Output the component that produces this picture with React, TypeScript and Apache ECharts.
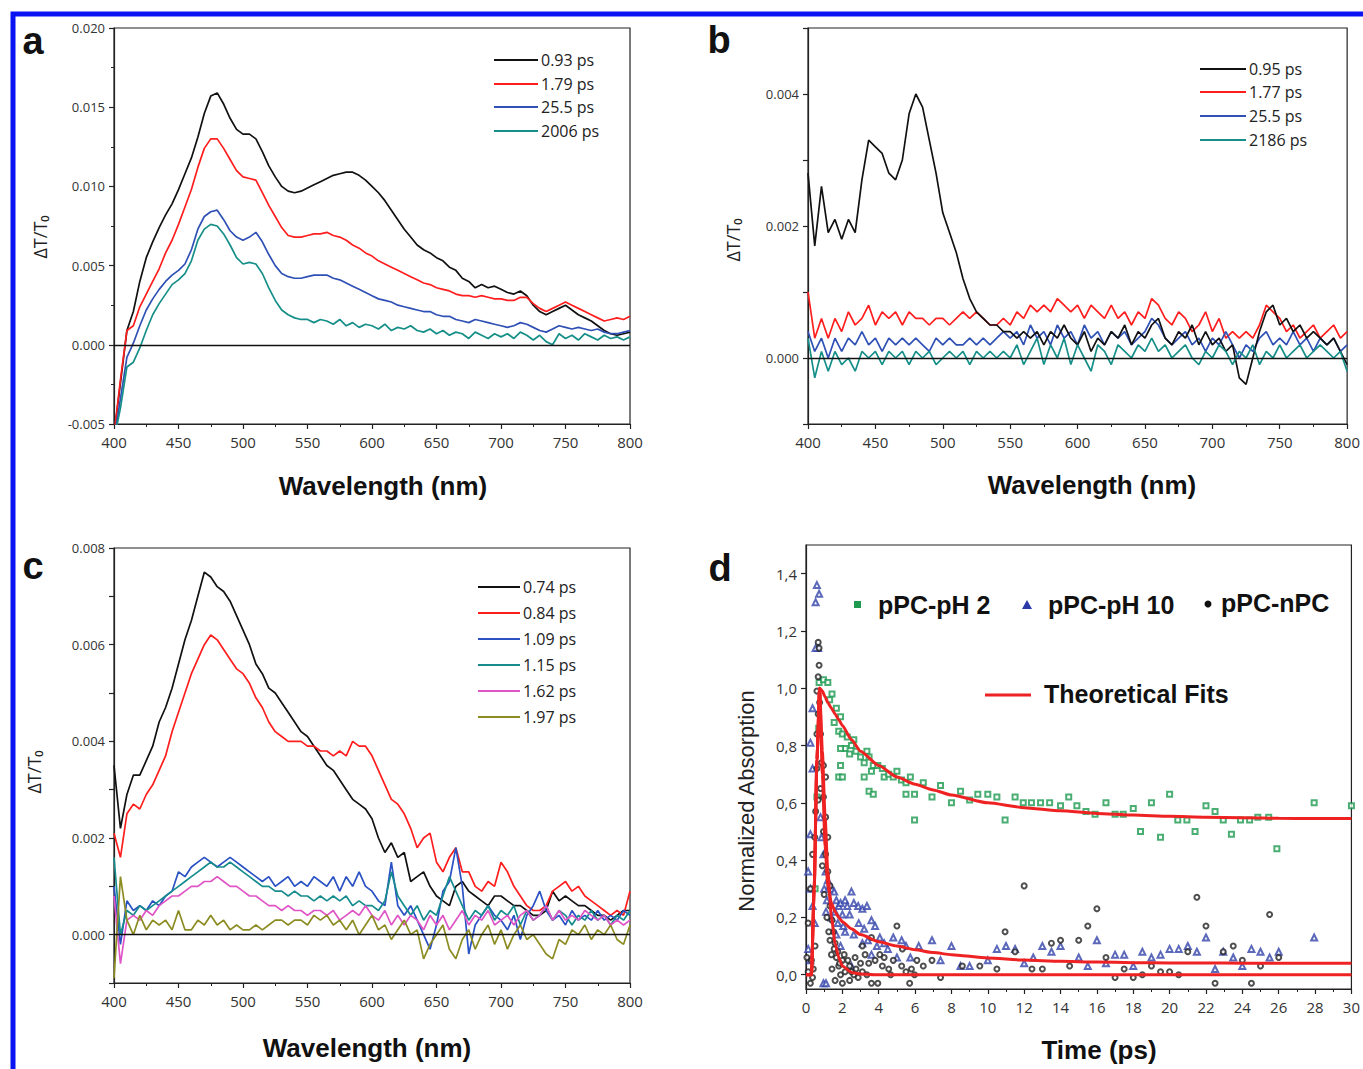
import React, { useEffect, useRef } from 'react';
import * as echarts from 'echarts';

// ---------- shared wavelength grid (nm) ----------
const WL = [
  400, 405, 410, 415, 420, 425, 430, 435, 440, 445,
  450, 455, 460, 465, 470, 475, 480, 485, 490, 495,
  500, 505, 510, 515, 520, 525, 530, 535, 540, 545,
  550, 555, 560, 565, 570, 575, 580, 585, 590, 595,
  600, 605, 610, 615, 620, 625, 630, 635, 640, 645,
  650, 655, 660, 665, 670, 675, 680, 685, 690, 695,
  700, 705, 710, 715, 720, 725, 730, 735, 740, 745,
  750, 755, 760, 765, 770, 775, 780, 785, 790, 795,
  800,
];

// ---------- panel a ----------
const A_NAMES = ['0.93 ps', '1.79 ps', '25.5 ps', '2006 ps'];
const A_BLACK = [
  -0.0057, -0.0024, 0.0009, 0.0021, 0.0040, 0.0055, 0.0065, 0.0074, 0.0082, 0.0089,
  0.0098, 0.0108, 0.0118, 0.0131, 0.0146, 0.0157, 0.0159, 0.0152, 0.0143, 0.0136,
  0.0133, 0.0133, 0.0130, 0.0122, 0.0113, 0.0106, 0.0100, 0.0097, 0.0096, 0.0097,
  0.0099, 0.0101, 0.0103, 0.0105, 0.0107, 0.0108, 0.0109, 0.0109, 0.0107, 0.0104,
  0.0100, 0.0096, 0.0091, 0.0085, 0.0079, 0.0073, 0.0068, 0.0063, 0.0060, 0.0058,
  0.0055, 0.0053, 0.0049, 0.0047, 0.0042, 0.0040, 0.0036, 0.0038, 0.0036, 0.0037,
  0.0035, 0.0033, 0.0032, 0.0034, 0.0031, 0.0025, 0.0021, 0.0019, 0.0021, 0.0023,
  0.0025, 0.0022, 0.0019, 0.0017, 0.0015, 0.0012, 0.0009, 0.0007, 0.0006, 0.0007,
  0.0008,
];
const A_RED = [
  -0.0057, -0.0022, 0.0009, 0.0012, 0.0024, 0.0032, 0.0040, 0.0048, 0.0058, 0.0066,
  0.0076, 0.0087, 0.0098, 0.0112, 0.0124, 0.0130, 0.0130, 0.0124, 0.0117, 0.0110,
  0.0106, 0.0105, 0.0104, 0.0096, 0.0088, 0.0081, 0.0074, 0.0069, 0.0068, 0.0068,
  0.0069, 0.0070, 0.0070, 0.0071, 0.0069, 0.0068, 0.0066, 0.0063, 0.0061, 0.0058,
  0.0056, 0.0053, 0.0051, 0.0049, 0.0047, 0.0045, 0.0043, 0.0041, 0.0039, 0.0038,
  0.0036, 0.0035, 0.0034, 0.0032, 0.0031, 0.0031, 0.0030, 0.0031, 0.0030, 0.0029,
  0.0029, 0.0028, 0.0028, 0.0030, 0.0030, 0.0026, 0.0023, 0.0021, 0.0023, 0.0025,
  0.0027, 0.0025, 0.0023, 0.0021, 0.0019, 0.0017, 0.0015, 0.0016, 0.0017, 0.0016,
  0.0018,
];
const A_BLUE = [
  -0.0060, -0.0034, -0.0008, 0.0001, 0.0012, 0.0022, 0.0029, 0.0035, 0.0040, 0.0044,
  0.0047, 0.0051, 0.0060, 0.0073, 0.0081, 0.0084, 0.0085, 0.0079, 0.0072, 0.0068,
  0.0066, 0.0068, 0.0071, 0.0065, 0.0057, 0.0050, 0.0045, 0.0043, 0.0042, 0.0042,
  0.0043, 0.0044, 0.0044, 0.0044, 0.0042, 0.0041, 0.0039, 0.0037, 0.0035, 0.0033,
  0.0031, 0.0029, 0.0028, 0.0027, 0.0025, 0.0024, 0.0023, 0.0022, 0.0021, 0.0021,
  0.0019, 0.0018, 0.0018, 0.0016, 0.0015, 0.0014, 0.0016, 0.0015, 0.0014, 0.0013,
  0.0012, 0.0011, 0.0012, 0.0014, 0.0013, 0.0011, 0.0009, 0.0008, 0.0010, 0.0012,
  0.0011, 0.0010, 0.0011, 0.0010, 0.0009, 0.0010, 0.0008, 0.0007, 0.0007, 0.0008,
  0.0009,
];
const A_TEAL = [
  -0.0060, -0.0040, -0.0014, -0.0011, -0.0002, 0.0009, 0.0019, 0.0026, 0.0032, 0.0038,
  0.0041, 0.0045, 0.0053, 0.0066, 0.0073, 0.0076, 0.0075, 0.0070, 0.0063, 0.0055,
  0.0051, 0.0052, 0.0051, 0.0045, 0.0036, 0.0028, 0.0022, 0.0019, 0.0017, 0.0016,
  0.0016, 0.0014, 0.0016, 0.0015, 0.0013, 0.0016, 0.0012, 0.0014, 0.0011, 0.0013,
  0.0012, 0.0010, 0.0013, 0.0009, 0.0011, 0.0010, 0.0012, 0.0009, 0.0008, 0.0010,
  0.0007, 0.0009, 0.0006, 0.0008, 0.0007, 0.0004, 0.0008, 0.0006, 0.0004, 0.0007,
  0.0005, 0.0007, 0.0004, 0.0008, 0.0006, 0.0003, 0.0006, 0.0002, 0.0000, 0.0007,
  0.0004, 0.0006, 0.0003, 0.0007, 0.0005, 0.0003, 0.0006, 0.0004, 0.0005, 0.0003,
  0.0005,
];

// ---------- panel b ----------
const B_NAMES = ['0.95 ps', '1.77 ps', '25.5 ps', '2186 ps'];
const B_BLACK = [
  0.0028, 0.0017, 0.0026, 0.0019, 0.0021, 0.0018, 0.0021, 0.0019, 0.0027, 0.0033,
  0.0032, 0.0031, 0.0028, 0.0027, 0.0030, 0.0037, 0.0040, 0.0038, 0.0033, 0.0028,
  0.0022, 0.0019, 0.0016, 0.0012, 0.0009, 0.0007, 0.0006, 0.0005, 0.0005, 0.0004,
  0.0004, 0.0003, 0.0004, 0.0003, 0.0004, 0.0002, 0.0004, 0.0003, 0.0005, 0.0003,
  0.0002, 0.0004, 0.0001, 0.0003, 0.0002, 0.0004, 0.0003, 0.0005, 0.0002, 0.0004,
  0.0003, 0.0005, 0.0006, 0.0003, 0.0002, 0.0004, 0.0003, 0.0005, 0.0002, 0.0004,
  0.0002, 0.0003, 0.0001, 0.0002, -0.0003, -0.0004, 0.0000, 0.0004, 0.0007, 0.0008,
  0.0005, 0.0006, 0.0004, 0.0005, 0.0003, 0.0004, 0.0003, 0.0002, 0.0003, 0.0001,
  -0.0001,
];
const B_RED = [
  0.0010, 0.0003, 0.0006, 0.0003, 0.0006, 0.0004, 0.0007, 0.0005, 0.0006, 0.0008,
  0.0005, 0.0007, 0.0006, 0.0007, 0.0005, 0.0007, 0.0006, 0.0006, 0.0005, 0.0006,
  0.0006, 0.0005, 0.0006, 0.0007, 0.0006, 0.0007, 0.0006, 0.0005, 0.0005, 0.0006,
  0.0005, 0.0007, 0.0006, 0.0008, 0.0007, 0.0008, 0.0007, 0.0009, 0.0008, 0.0007,
  0.0008, 0.0006, 0.0008, 0.0007, 0.0006, 0.0008, 0.0006, 0.0007, 0.0005, 0.0007,
  0.0006, 0.0009, 0.0008, 0.0006, 0.0005, 0.0007, 0.0006, 0.0004, 0.0005, 0.0007,
  0.0004, 0.0006, 0.0003, 0.0004, 0.0003, 0.0004, 0.0003, 0.0005, 0.0008, 0.0007,
  0.0006, 0.0004, 0.0005, 0.0003, 0.0004, 0.0005, 0.0003, 0.0004, 0.0005, 0.0003,
  0.0004,
];
const B_BLUE = [
  0.0004, 0.0001, 0.0003, 0.0000, 0.0003, 0.0001, 0.0003, 0.0002, 0.0004, 0.0002,
  0.0003, 0.0001, 0.0003, 0.0002, 0.0003, 0.0002, 0.0003, 0.0002, 0.0001, 0.0003,
  0.0002, 0.0003, 0.0002, 0.0002, 0.0003, 0.0002, 0.0003, 0.0002, 0.0003, 0.0004,
  0.0003, 0.0004, 0.0002, 0.0005, 0.0003, 0.0004, 0.0002, 0.0005, 0.0003, 0.0004,
  0.0002, 0.0005, 0.0003, 0.0004, 0.0002, 0.0004, 0.0003, 0.0004, 0.0002, 0.0003,
  0.0004, 0.0006, 0.0005, 0.0003, 0.0002, 0.0003, 0.0004, 0.0002, 0.0003, 0.0001,
  0.0003, 0.0002, 0.0004, 0.0002, 0.0000, 0.0002, 0.0001, 0.0003, 0.0004, 0.0002,
  0.0003, 0.0002, 0.0004, 0.0002, 0.0003, 0.0001, 0.0003, 0.0002, 0.0003, 0.0001,
  0.0002,
];
const B_TEAL = [
  0.0003, -0.0003, 0.0001, -0.0002, 0.0001, -0.0001, 0.0000, -0.0002, 0.0001, 0.0000,
  0.0001, -0.0001, 0.0001, 0.0000, 0.0001, -0.0001, 0.0001, 0.0000, 0.0001, -0.0001,
  0.0000, 0.0001, 0.0000, 0.0001, -0.0001, 0.0001, 0.0000, 0.0001, 0.0000, 0.0001,
  0.0000, 0.0002, -0.0001, 0.0001, 0.0003, -0.0001, 0.0002, 0.0000, 0.0003, -0.0001,
  0.0002, 0.0000, -0.0002, 0.0002, 0.0001, -0.0001, 0.0002, 0.0001, 0.0000, 0.0002,
  0.0001, 0.0003, 0.0001, 0.0002, 0.0000, 0.0001, 0.0002, 0.0000, -0.0001, 0.0001,
  0.0000, 0.0002, 0.0001, -0.0001, 0.0001, 0.0000, 0.0002, -0.0001, 0.0001, 0.0000,
  0.0002, 0.0000, 0.0001, 0.0002, 0.0000, 0.0001, 0.0002, 0.0001, 0.0000, 0.0001,
  -0.0002,
];

// ---------- panel c ----------
const C_NAMES = ['0.74 ps', '0.84 ps', '1.09 ps', '1.15 ps', '1.62 ps', '1.97 ps'];
const C_BLACK = [
  0.0035, 0.0022, 0.0029, 0.0033, 0.0033, 0.0036, 0.0039, 0.0044, 0.0047, 0.0051,
  0.0056, 0.0061, 0.0065, 0.0070, 0.0075, 0.0074, 0.0072, 0.0071, 0.0069, 0.0066,
  0.0063, 0.0060, 0.0056, 0.0054, 0.0051, 0.0050, 0.0048, 0.0046, 0.0044, 0.0042,
  0.0041, 0.0039, 0.0037, 0.0035, 0.0034, 0.0032, 0.0030, 0.0028, 0.0027, 0.0026,
  0.0024, 0.0020, 0.0017, 0.0019, 0.0016, 0.0017, 0.0011, 0.0012, 0.0013, 0.0010,
  0.0008, 0.0007, 0.0006, 0.0010, 0.0011, 0.0009, 0.0008, 0.0007, 0.0006, 0.0008,
  0.0008, 0.0007, 0.0006, 0.0006, 0.0005, 0.0004, 0.0004, 0.0005, 0.0009, 0.0007,
  0.0008, 0.0007, 0.0006, 0.0006, 0.0005, 0.0004, 0.0004, 0.0003, 0.0004, 0.0005,
  0.0005,
];
const C_RED = [
  0.0021, 0.0016, 0.0025, 0.0027, 0.0026, 0.0029, 0.0031, 0.0034, 0.0037, 0.0042,
  0.0046, 0.0050, 0.0054, 0.0057, 0.0060, 0.0062, 0.0061, 0.0059, 0.0057, 0.0055,
  0.0054, 0.0052, 0.0049, 0.0047, 0.0044, 0.0042, 0.0041, 0.0040, 0.0040, 0.0040,
  0.0039, 0.0039, 0.0038, 0.0038, 0.0037, 0.0038, 0.0037, 0.0040, 0.0039, 0.0039,
  0.0037, 0.0034, 0.0031, 0.0028, 0.0027, 0.0025, 0.0022, 0.0018, 0.0020, 0.0021,
  0.0015, 0.0013, 0.0016, 0.0018, 0.0013, 0.0013, 0.0010, 0.0009, 0.0011, 0.0010,
  0.0015, 0.0013, 0.0010, 0.0008, 0.0006, 0.0005, 0.0005, 0.0006, 0.0009, 0.0010,
  0.0011, 0.0009, 0.0010, 0.0008, 0.0007, 0.0006, 0.0005, 0.0004, 0.0005, 0.0004,
  0.0009,
];
const C_BLUE = [
  0.0010, -0.0002, 0.0007, 0.0005, 0.0006, 0.0005, 0.0007, 0.0006, 0.0008, 0.0009,
  0.0013, 0.0012, 0.0014, 0.0015, 0.0016, 0.0015, 0.0014, 0.0015, 0.0016, 0.0015,
  0.0014, 0.0013, 0.0012, 0.0011, 0.0012, 0.0010, 0.0011, 0.0012, 0.0010, 0.0011,
  0.0010, 0.0012, 0.0011, 0.0010, 0.0012, 0.0009, 0.0012, 0.0010, 0.0013, 0.0010,
  0.0009, 0.0007, 0.0006, 0.0015, 0.0006, 0.0004, 0.0006, 0.0003, 0.0000, -0.0003,
  0.0002, 0.0009, 0.0011, 0.0018, 0.0010, -0.0004, 0.0002, 0.0004, 0.0006, 0.0004,
  0.0003, 0.0001, 0.0004, -0.0001, 0.0004, 0.0006, 0.0009, 0.0005, 0.0003, 0.0004,
  0.0002, 0.0005, 0.0003, 0.0004, 0.0003, 0.0005, 0.0003, 0.0004, 0.0003, 0.0005,
  0.0004,
];
const C_TEAL = [
  0.0016, 0.0000, 0.0005, 0.0004, 0.0006, 0.0005, 0.0006, 0.0007, 0.0008, 0.0009,
  0.0010, 0.0011, 0.0012, 0.0013, 0.0014, 0.0015, 0.0014, 0.0014, 0.0015, 0.0014,
  0.0013, 0.0012, 0.0011, 0.0010, 0.0010, 0.0009, 0.0009, 0.0008, 0.0009, 0.0008,
  0.0008, 0.0007, 0.0008, 0.0007, 0.0008, 0.0007, 0.0008, 0.0006, 0.0007, 0.0006,
  0.0006, 0.0005, 0.0007, 0.0013, 0.0008, 0.0006, 0.0004, 0.0006, 0.0003, 0.0005,
  0.0004, 0.0008, 0.0012, 0.0009, 0.0006, 0.0003, 0.0005, 0.0004, 0.0006, 0.0003,
  0.0005, 0.0004, 0.0006, 0.0002, 0.0005, 0.0003, 0.0004, 0.0006, 0.0003, 0.0005,
  0.0004, 0.0002, 0.0004, 0.0003, 0.0005, 0.0003, 0.0004, 0.0002, 0.0004, 0.0003,
  0.0005,
];
const C_MAGENTA = [
  0.0008, -0.0006, 0.0003, 0.0004, 0.0003, 0.0005, 0.0004, 0.0006, 0.0007, 0.0008,
  0.0008, 0.0009, 0.0010, 0.0010, 0.0011, 0.0011, 0.0012, 0.0011, 0.0010, 0.0010,
  0.0009, 0.0008, 0.0008, 0.0007, 0.0006, 0.0006, 0.0005, 0.0006, 0.0005, 0.0005,
  0.0004, 0.0005, 0.0005, 0.0004, 0.0005, 0.0003, 0.0004, 0.0005, 0.0004, 0.0006,
  0.0004, 0.0003, 0.0005, 0.0002, 0.0004, 0.0002, 0.0004, 0.0003, 0.0001, 0.0004,
  0.0002, 0.0004, 0.0001, 0.0003, 0.0005, 0.0002, 0.0004, 0.0003, 0.0005, 0.0002,
  0.0003, 0.0004, 0.0002, 0.0004, 0.0005, 0.0003, 0.0004, 0.0006, 0.0003, 0.0005,
  0.0003, 0.0004, 0.0003, 0.0005, 0.0004, 0.0003, 0.0004, 0.0002, 0.0003, 0.0002,
  0.0003,
];
const C_OLIVE = [
  -0.0009, 0.0012, 0.0003, 0.0000, 0.0004, 0.0001, 0.0003, 0.0002, 0.0003, 0.0001,
  0.0005, 0.0001, 0.0001, 0.0003, 0.0002, 0.0004, 0.0002, 0.0003, 0.0001, 0.0002,
  0.0001, 0.0001, 0.0002, 0.0001, 0.0002, 0.0003, 0.0003, 0.0002, 0.0003, 0.0003,
  0.0002, 0.0004, 0.0003, 0.0004, 0.0002, 0.0003, 0.0001, 0.0003, 0.0000, 0.0002,
  0.0004, 0.0001, 0.0002, -0.0001, 0.0001, 0.0003, 0.0000, 0.0001, -0.0005, -0.0002,
  0.0000, 0.0002, -0.0003, -0.0005, -0.0001, 0.0001, -0.0003, 0.0000, 0.0002, -0.0002,
  0.0001, -0.0003, 0.0000, 0.0002, -0.0001, 0.0000, -0.0002, -0.0004, -0.0005, -0.0001,
  -0.0002, 0.0001, 0.0000, 0.0002, -0.0001, 0.0001, 0.0000, 0.0002, -0.0001, -0.0002,
  0.0002,
];

// ---------- panel d ----------
const D_NAMES = ['pPC-pH 2', 'pPC-pH 10', 'pPC-nPC'];
const D_GREEN = [
  [0.5, 0.30], [0.6, 0.62], [0.7, 0.86], [0.72, 1.02], [0.96, 1.03], [1.2, 1.02], [1.43, 0.98], [1.3, 0.96],
  [1.67, 0.93], [1.55, 0.88], [1.9, 0.90], [1.8, 0.85], [2.0, 0.84], [2.15, 0.79], [1.9, 0.79], [2.27, 0.83],
  [2.5, 0.80], [2.63, 0.82], [1.9, 0.73], [1.8, 0.69], [2.0, 0.69], [2.4, 0.77], [2.75, 0.78], [3.0, 0.76],
  [3.2, 0.74], [3.35, 0.78], [3.47, 0.76], [3.7, 0.73], [3.6, 0.71], [3.2, 0.69], [3.47, 0.64], [3.7, 0.63],
  [3.95, 0.73], [4.2, 0.72], [4.3, 0.69], [4.55, 0.70], [4.8, 0.69], [5.0, 0.71], [5.25, 0.68], [5.5, 0.67],
  [5.5, 0.63], [5.74, 0.69], [5.97, 0.63], [5.97, 0.54], [6.45, 0.67], [6.93, 0.62], [7.4, 0.66], [8.0, 0.60],
  [8.5, 0.64], [9.0, 0.61], [9.45, 0.63], [10.0, 0.63], [10.5, 0.62], [10.95, 0.54], [11.5, 0.62], [11.95, 0.60],
  [12.4, 0.60], [12.9, 0.60], [13.4, 0.60], [14.0, 0.59], [14.45, 0.62], [14.9, 0.59], [15.4, 0.57], [15.9, 0.56],
  [16.5, 0.60], [17.0, 0.56], [17.45, 0.56], [18.0, 0.58], [18.4, 0.50], [19.0, 0.60], [19.5, 0.48], [20.0, 0.63],
  [20.45, 0.54], [20.95, 0.54], [21.4, 0.50], [22.0, 0.59], [22.5, 0.57], [22.95, 0.54], [23.4, 0.49], [23.9, 0.54],
  [24.4, 0.54], [24.85, 0.55], [25.45, 0.55], [25.9, 0.44], [27.95, 0.60], [30.0, 0.59],
];
const D_BLUE = [
  [0.6, 1.52], [0.6, 1.36], [0.72, 1.33], [0.53, 1.30], [0.67, 1.14], [0.53, 1.14], [0.36, 0.93], [0.24, 0.81],
  [0.36, 0.72], [0.24, 0.49], [0.12, 0.36], [0.24, 0.30], [0.36, 0.24], [0.12, 0.09], [0.24, 0.05], [0.48, 0.18],
  [0.96, 0.42], [1.08, 0.36], [1.2, 0.33], [1.3, 0.31], [1.43, 0.30], [1.55, 0.29], [1.67, 0.26], [1.8, 0.24],
  [1.9, 0.25], [2.0, 0.21], [2.15, 0.26], [2.27, 0.24], [2.5, 0.29], [2.63, 0.25], [2.87, 0.24], [3.1, 0.23],
  [3.35, 0.24], [3.6, 0.19], [3.8, 0.17], [1.67, 0.14], [2.15, 0.15], [2.63, 0.14], [3.1, 0.11], [3.6, 0.07],
  [4.06, 0.13], [4.3, 0.11], [4.8, 0.13], [5.26, 0.12], [5.74, 0.06], [6.2, 0.10], [6.93, 0.12], [7.4, 0.05],
  [8.0, 0.10], [8.5, 0.03], [9.0, 0.03], [10.0, 0.05], [10.5, 0.09], [11.0, 0.10], [11.5, 0.09], [12.0, 0.04],
  [12.5, 0.06], [13.0, 0.10], [13.5, 0.08], [14.0, 0.10], [15.0, 0.06], [15.5, 0.03], [16.0, 0.12], [16.5, 0.04],
  [17.0, 0.07], [17.5, 0.07], [18.0, 0.03], [18.5, 0.08], [19.0, 0.06], [19.5, 0.07], [20.0, 0.09], [20.5, 0.09],
  [21.0, 0.10], [21.5, 0.08], [22.0, 0.13], [22.5, 0.02], [22.95, 0.08], [23.5, 0.06], [24.0, 0.03], [24.5, 0.09],
  [25.0, 0.08], [25.5, 0.06], [26.0, 0.08], [27.95, 0.13],
  [1.1, 0.22], [1.4, 0.20], [1.6, 0.22], [1.75, 0.18], [2.05, 0.17], [2.4, 0.21], [2.9, 0.18], [3.2, 0.16],
  [3.4, 0.12], [3.9, 0.10], [4.5, 0.09], [5.0, 0.06], [5.5, 0.10], [0.8, 0.55], [0.85, 0.48], [1.0, 0.30],
  [1.15, 0.26], [1.9, 0.10], [0.96, -0.03], [1.1, -0.03], [2.5, 0.03],
];
const D_BLACK = [
  [0.67, 1.16], [0.72, 1.14], [0.72, 1.08], [0.67, 1.04], [0.6, 0.99], [0.67, 0.91], [0.6, 0.84], [0.6, 0.72],
  [0.67, 0.61], [0.53, 0.57], [0.48, 0.48], [0.36, 0.42], [0.24, 0.30], [0.12, 0.18], [0.05, 0.06], [0.12, 0.01],
  [0.24, -0.03], [0.36, -0.01], [0.84, 0.74], [0.96, 0.73], [1.08, 0.69], [0.96, 0.62], [1.08, 0.55], [0.96, 0.50],
  [1.2, 0.48], [1.08, 0.42], [1.2, 0.36], [1.32, 0.31], [1.32, 0.24], [1.43, 0.19], [1.32, 0.12], [1.55, 0.09],
  [1.67, 0.06], [1.43, 0.02], [1.8, 0.03], [1.9, 0.0], [2.0, 0.05], [2.15, 0.01], [2.4, 0.03], [2.63, 0.0],
  [2.75, 0.02], [2.87, -0.01], [3.1, 0.01], [3.35, 0.0], [3.6, -0.03], [3.95, -0.03], [3.1, 0.10], [3.6, 0.13],
  [4.06, 0.07], [4.3, 0.06], [4.55, 0.02], [4.66, 0.0], [5.0, 0.17], [5.26, 0.03], [5.5, 0.01], [5.97, 0.0],
  [6.45, 0.03], [6.93, 0.05], [7.4, -0.01], [8.6, 0.03], [9.56, 0.03], [10.5, 0.02], [10.95, 0.15], [11.5, 0.08],
  [12.0, 0.31], [12.43, 0.02], [13.0, 0.02], [13.5, 0.11], [14.0, 0.12], [14.5, 0.03], [15.0, 0.12], [15.5, 0.17],
  [16.0, 0.23], [16.5, 0.06], [17.0, -0.01], [17.5, 0.02], [18.0, -0.01], [18.5, 0.0], [19.0, 0.03], [19.5, 0.01],
  [20.0, 0.01], [20.5, 0.0], [21.0, 0.08], [21.5, 0.27], [22.0, 0.17], [22.5, -0.03], [22.95, 0.08], [23.5, 0.10],
  [24.0, 0.05], [24.5, -0.03], [25.0, 0.03], [25.5, 0.21], [26.0, 0.06],
  [1.5, 0.15], [1.6, 0.11], [1.75, 0.08], [1.85, 0.04], [2.1, 0.07], [2.3, 0.05], [2.5, 0.01], [2.7, 0.06],
  [3.0, 0.04], [3.25, 0.07], [3.45, 0.04], [3.8, 0.05], [4.2, 0.03], [4.8, 0.05], [5.3, 0.09], [5.8, 0.02],
  [6.1, 0.05], [1.0, 0.28], [1.15, 0.20], [1.25, 0.15], [1.4, 0.07], [0.9, 0.38], [0.8, 0.84], [0.75, 0.95],
  [0.8, 0.65], [0.5, 0.10], [0.3, 0.05], [0.4, 0.02], [1.6, -0.02], [2.0, -0.03], [5.7, -0.03], [2.4, -0.02],
];
const FIT_T = [0, 0.3, 0.45, 0.6, 0.75, 0.9, 1.05, 1.2, 1.4, 1.6, 1.8, 2, 2.5, 3, 4, 5, 6, 7, 8, 10, 12, 14, 16, 18, 20, 22, 24, 26, 28, 30];
const FIT_GREEN = [0, 0, 0.30, 0.75, 1.0, 0.99, 0.97, 0.95, 0.93, 0.91, 0.89, 0.87, 0.82, 0.78, 0.73, 0.69, 0.665, 0.645, 0.627, 0.60, 0.583, 0.572, 0.563, 0.557, 0.553, 0.55, 0.548, 0.546, 0.545, 0.545];
const FIT_BLUE = [0, 0, 0.30, 0.75, 1.0, 0.70, 0.45, 0.31, 0.25, 0.22, 0.20, 0.185, 0.16, 0.14, 0.115, 0.10, 0.087, 0.077, 0.07, 0.058, 0.051, 0.047, 0.044, 0.042, 0.041, 0.041, 0.040, 0.040, 0.040, 0.040];
const FIT_BLACK = [0, 0, 0.30, 0.75, 1.0, 0.78, 0.55, 0.36, 0.20, 0.11, 0.06, 0.03, 0.008, 0.002, 0, 0, 0, 0, 0, 0, 0, 0, 0, 0, 0, 0, 0, 0, 0, 0];
const D_YTICKS = [0, 0.2, 0.4, 0.6, 0.8, 1.0, 1.2, 1.4];

// ---------- styling ----------
const COL_A = ['#111111', '#ff1e1e', '#2f50b4', '#168f89'];
const COL_C = ['#111111', '#ff1e1e', '#2a52c4', '#178c8e', '#e055c6', '#8c8c22'];
const TICK_FONT = 'Open Sans';
const TITLE_FONT = 'Liberation Sans';

const pairs = (ys: number[]) => WL.map((w, i) => [w, ys[i]]);

function buildOption() {
  const grids = [
    { left: 114, top: 28, width: 516, height: 396 },
    { left: 808, top: 28, width: 542, height: 396 },
    { left: 114, top: 548, width: 516, height: 435 },
    { left: 806, top: 545, width: 546, height: 444 },
  ].map((g) => ({ ...g, show: true, borderColor: '#222', borderWidth: 1.2, backgroundColor: 'transparent' }));

  const axisLine = { show: true, onZero: false, lineStyle: { color: '#222', width: 1.2 } };
  const tick = { show: true, length: 5, lineStyle: { color: '#222', width: 1.2 } };
  const minor = { show: true, splitNumber: 2, length: 3, lineStyle: { color: '#222', width: 1 } };

  const wlAxis = (gi: number) => ({
    type: 'value', gridIndex: gi, min: 400, max: 800, interval: 50,
    axisLine, axisTick: tick, minorTick: minor, splitLine: { show: false }, minorSplitLine: { show: false },
    axisLabel: { fontFamily: TICK_FONT, fontSize: 15, color: '#333', margin: 10 },
  });
  const evenFmt = (v: number) => {
    const k = Math.round(v * 1000);
    return k >= 0 && k % 2 === 0 ? (k / 1000).toFixed(3) : '';
  };

  const xAxis = [
    wlAxis(0), wlAxis(1), wlAxis(2),
    {
      type: 'value', gridIndex: 3, min: 0, max: 30, interval: 2,
      axisLine, axisTick: tick, minorTick: minor, splitLine: { show: false }, minorSplitLine: { show: false },
      axisLabel: { fontFamily: TICK_FONT, fontSize: 15, color: '#333', margin: 10 },
    },
  ];
  const yAxis = [
    {
      type: 'value', gridIndex: 0, min: -0.005, max: 0.02, interval: 0.005,
      axisLine, axisTick: tick, minorTick: minor, splitLine: { show: false }, minorSplitLine: { show: false },
      axisLabel: { fontFamily: TICK_FONT, fontSize: 13, color: '#333', margin: 9, formatter: (v: number) => v.toFixed(3) },
    },
    {
      type: 'value', gridIndex: 1, min: -0.001, max: 0.005, interval: 0.001,
      axisLine, axisTick: tick, splitLine: { show: false },
      axisLabel: { fontFamily: TICK_FONT, fontSize: 13, color: '#333', margin: 9, formatter: evenFmt },
    },
    {
      type: 'value', gridIndex: 2, min: -0.001, max: 0.008, interval: 0.001,
      axisLine, axisTick: tick, splitLine: { show: false },
      axisLabel: { fontFamily: TICK_FONT, fontSize: 13, color: '#333', margin: 9, formatter: evenFmt },
    },
    {
      type: 'value', gridIndex: 3, min: -0.05, max: 1.5,
      axisLine, splitLine: { show: false },
      axisTick: { ...tick, customValues: D_YTICKS },
      axisLabel: {
        fontFamily: TICK_FONT, fontSize: 15, color: '#333', margin: 9, customValues: D_YTICKS,
        formatter: (v: number) => v.toFixed(1).replace('.', ','),
      },
    },
  ];

  const zeroLine = {
    silent: true, symbol: ['none', 'none'], label: { show: false },
    lineStyle: { color: '#111', width: 1.3, type: 'solid' }, data: [{ yAxis: 0 }],
  };
  const spec = (gi: number, name: string, ys: number[], color: string, withZero = false) => ({
    type: 'line', name, xAxisIndex: gi, yAxisIndex: gi, data: pairs(ys), showSymbol: false, symbol: 'none',
    clip: true, lineStyle: { color, width: 1.7 }, itemStyle: { color }, z: 3,
    ...(withZero ? { markLine: zeroLine } : {}),
  });

  const series: any[] = [
    spec(0, A_NAMES[0], A_BLACK, COL_A[0], true),
    spec(0, A_NAMES[1], A_RED, COL_A[1]),
    spec(0, A_NAMES[2], A_BLUE, COL_A[2]),
    spec(0, A_NAMES[3], A_TEAL, COL_A[3]),
    spec(1, B_NAMES[1], B_RED, COL_A[1], true),
    spec(1, B_NAMES[2], B_BLUE, COL_A[2]),
    spec(1, B_NAMES[0], B_BLACK, COL_A[0]),
    spec(1, B_NAMES[3], B_TEAL, COL_A[3]),
    spec(2, C_NAMES[0], C_BLACK, COL_C[0], true),
    spec(2, C_NAMES[1], C_RED, COL_C[1]),
    spec(2, C_NAMES[2], C_BLUE, COL_C[2]),
    spec(2, C_NAMES[3], C_TEAL, COL_C[3]),
    spec(2, C_NAMES[4], C_MAGENTA, COL_C[4]),
    spec(2, C_NAMES[5], C_OLIVE, COL_C[5]),
    {
      type: 'scatter', name: D_NAMES[0], xAxisIndex: 3, yAxisIndex: 3, data: D_GREEN, symbol: 'emptyRect', symbolSize: 5,
      itemStyle: { color: '#1d9a50', borderWidth: 1 }, clip: true, z: 2,
    },
    {
      type: 'scatter', name: D_NAMES[1], xAxisIndex: 3, yAxisIndex: 3, data: D_BLUE, symbol: 'emptyTriangle', symbolSize: 6,
      itemStyle: { color: '#3344aa', borderWidth: 1 }, clip: true, z: 2,
    },
    {
      type: 'scatter', name: D_NAMES[2], xAxisIndex: 3, yAxisIndex: 3, data: D_BLACK, symbol: 'emptyCircle', symbolSize: 5,
      itemStyle: { color: '#222', borderWidth: 1 }, clip: true, z: 2,
    },
  ];
  [FIT_GREEN, FIT_BLUE, FIT_BLACK].forEach((f, i) => {
    series.push({
      type: 'line', name: 'fit' + i, xAxisIndex: 3, yAxisIndex: 3, data: FIT_T.map((t, j) => [t, f[j]]),
      showSymbol: false, symbol: 'none', clip: true, smooth: 0.2, smoothMonotone: 'x',
      lineStyle: { color: '#ee2222', width: 3 }, z: 4,
    });
  });

  // ---------- decorations (text/legends) ----------
  const g: any[] = [];
  g.push({ type: 'rect', shape: { x: 13, y: 14, width: 1400, height: 1100 }, style: { fill: 'none', stroke: '#0a14f2', lineWidth: 5 }, z: 100 });
  const letter = (t: string, x: number, y: number) =>
    g.push({ type: 'text', x, y, style: { text: t, font: `bold 38px ${TITLE_FONT}`, fill: '#111', textAlign: 'center', textVerticalAlign: 'middle' } });
  letter('a', 33, 41); letter('b', 719, 40); letter('c', 33, 566); letter('d', 720, 568);

  const legend = (names: string[], cols: string[], x0: number, x1: number, ys: number[]) => {
    names.forEach((n, i) => {
      g.push({ type: 'line', shape: { x1: x0, y1: ys[i], x2: x1, y2: ys[i] }, style: { stroke: cols[i], lineWidth: 2 } });
      g.push({ type: 'text', x: x1 + 3, y: ys[i], style: { text: n, font: `16px ${TICK_FONT}`, fill: '#222', textAlign: 'left', textVerticalAlign: 'middle' } });
    });
  };
  legend(A_NAMES, COL_A, 494, 538, [60, 84, 107, 131]);
  legend(B_NAMES, COL_A, 1200, 1246, [69, 92, 116, 140]);
  legend(C_NAMES, COL_C, 478, 520, [587, 613, 639, 665, 691, 717]);

  const title = (t: string, x: number, y: number) =>
    g.push({ type: 'text', x, y, style: { text: t, font: `bold 26px ${TITLE_FONT}`, fill: '#111', textAlign: 'center', textVerticalAlign: 'middle' } });
  title('Wavelength (nm)', 383, 486); title('Wavelength (nm)', 1092, 485); title('Wavelength (nm)', 367, 1048); title('Time (ps)', 1099, 1050);

  const ytitle = (t: string, x: number, y: number, font: string) =>
    g.push({ type: 'text', x, y, rotation: Math.PI / 2, style: { text: t, font, fill: '#222', textAlign: 'center', textVerticalAlign: 'middle' } });
  ytitle('ΔT/T₀', 40, 237, `18px ${TICK_FONT}`);
  ytitle('ΔT/T₀', 733, 240, `18px ${TICK_FONT}`);
  ytitle('ΔT/T₀', 34, 772, `18px ${TICK_FONT}`);
  ytitle('Normalized Absorption', 746, 801, `22px ${TITLE_FONT}`);

  // panel d legend
  const dfont = `bold 25px ${TITLE_FONT}`;
  g.push({ type: 'rect', shape: { x: 854, y: 601, width: 7, height: 7 }, style: { fill: '#1d9a50' } });
  g.push({ type: 'text', x: 878, y: 605, style: { text: D_NAMES[0], font: dfont, fill: '#111', textAlign: 'left', textVerticalAlign: 'middle' } });
  g.push({ type: 'polygon', shape: { points: [[1027, 600], [1022, 609], [1032, 609]] }, style: { fill: '#2a3aa8' } });
  g.push({ type: 'text', x: 1048, y: 605, style: { text: D_NAMES[1], font: dfont, fill: '#111', textAlign: 'left', textVerticalAlign: 'middle' } });
  g.push({ type: 'circle', shape: { cx: 1208, cy: 604, r: 3.5 }, style: { fill: '#111' } });
  g.push({ type: 'text', x: 1221, y: 603, style: { text: D_NAMES[2], font: dfont, fill: '#111', textAlign: 'left', textVerticalAlign: 'middle' } });
  g.push({ type: 'line', shape: { x1: 985, y1: 695, x2: 1031, y2: 695 }, style: { stroke: '#ee2222', lineWidth: 3 } });
  g.push({ type: 'text', x: 1044, y: 694, style: { text: 'Theoretical Fits', font: dfont, fill: '#111', textAlign: 'left', textVerticalAlign: 'middle' } });

  return {
    animation: false,
    backgroundColor: '#ffffff',
    grid: grids,
    xAxis,
    yAxis,
    series,
    graphic: { elements: g },
  };
}

export default function App() {
  const ref = useRef<HTMLDivElement>(null);
  useEffect(() => {
    if (!ref.current) return;
    const chart = echarts.init(ref.current, null, { renderer: 'svg' });
    chart.setOption(buildOption() as any);
    return () => chart.dispose();
  }, []);
  return <div ref={ref} style={{ position: 'fixed', left: 0, top: 0, width: 1363, height: 1069, background: '#fff' }} />;
}
